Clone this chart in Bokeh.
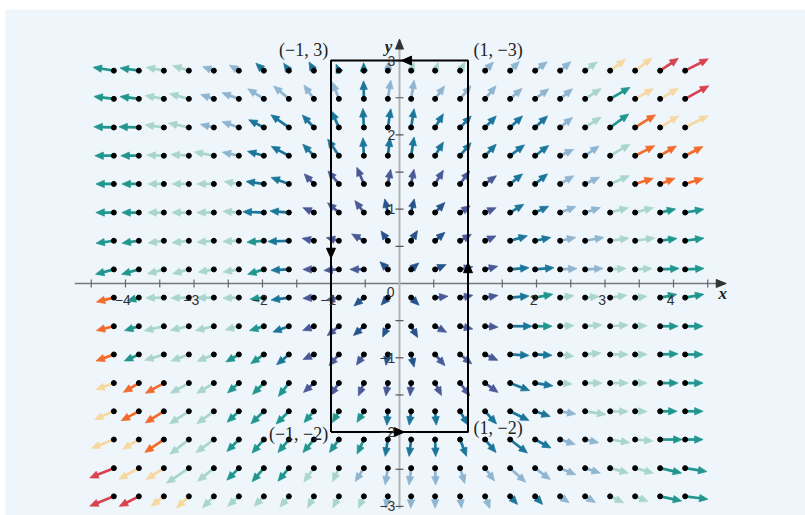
import math
from bokeh.plotting import figure
from bokeh.models import Range1d
from bokeh.core.properties import value
from bokeh.embed import file_html
from bokeh.resources import INLINE

# ---------------- data ----------------
x_cols = [-4.17, -3.805, -3.44, -3.075, -2.71, -2.345, -1.98, -1.615, -1.25, -0.885, -0.52, -0.17,
          0.17, 0.52, 0.885, 1.25, 1.615, 1.98, 2.345, 2.71, 3.075, 3.44, 3.805, 4.17]
y_rows = [2.865, 2.485, 2.1, 1.72, 1.34, 0.955, 0.575, 0.19,
          -0.19, -0.575, -0.955, -1.34, -1.72, -2.1, -2.485, -2.865]

# arrow direction (degrees) per row, top row first
angle_rows = [
    [171, 172, 169, 163, 160, 150, 137, 125, 119, 114, 92, 82, 70, 70, 60, 46, 45, 36, 40, 36, 36, 37, 34, 27],
    [173, 173, 170, 165, 162, 160, 148, 140, 126, 111, 91, 81, 81, 54, 50, 50, 41, 36, 39, 33, 30, 29, 30, 29],
    [178, 178, 172, 168, 167, 161, 153, 145, 133, 114, 93, 81, 81, 59, 46, 46, 43, 43, 39, 33, 36, 32, 32, 27],
    [180, 180, 178, 176, 169, 168, 165, 152, 134, 124, 93, 83, 81, 59, 50, 46, 37, 37, 25, 35, 30, 27, 31, 27],
    [180, 180, 180, 180, 180, 171, 172, 160, 134, 130, 113, 79, 79, 59, 54, 36, 39, 39, 31, 25, 23, 17, 21, 17],
    [180, 180, 180, 180, 180, 175, 178, 175, 156, 139, 127, 103, 77, 46, 34, 24, 31, 25, 21, 18, 15, 15, 13, 10],
    [188, 188, 188, 187, 185, 183, 185, 182, 168, 166, 151, 125, 58, 41, 30, 24, 16, 12, 12, 10, 8, 8, 8, 8],
    [195, 196, 195, 195, 190, 190, 197, 183, 180, 184, 180, 136, 40, 24, 12, 14, 5, 5, 3, 3, 3, 3, 3, 3],
    [194, 196, 181, 181, 181, 182, 187, 188, 184, 192, 220, 228, 316, 6, 10, 10, 5, 11, 9, 5, 8, 6, 11, 10],
    [194, 197, 193, 192, 193, 195, 197, 200, 201, 219, 222, 244, 300, 332, 348, 356, 0, 0, 3, 5, 4, 3, 0, 0],
    [200, 204, 197, 200, 202, 210, 215, 220, 205, 229, 235, 260, 283, 311, 321, 335, 357, 357, 352, 5, 0, 0, 2, 0],
    [200, 211, 209, 209, 211, 221, 225, 232, 222, 236, 247, 261, 265, 297, 307, 324, 339, 351, 355, 0, 0, 0, 0, 0],
    [203, 208, 212, 213, 216, 223, 224, 225, 229, 240, 238, 266, 262, 275, 300, 312, 334, 341, 350, 351, 359, 359, 0, 0],
    [201, 211, 214, 218, 216, 225, 229, 230, 230, 234, 245, 261, 263, 272, 291, 310, 322, 332, 342, 347, 351, 355, 0, 0],
    [202, 209, 213, 214, 219, 225, 229, 230, 234, 245, 237, 261, 263, 272, 287, 306, 318, 323, 337, 342, 345, 345, 347, 351],
    [202, 207, 218, 223, 225, 221, 225, 230, 241, 242, 245, 260, 268, 270, 277, 292, 313, 313, 325, 329, 335, 338, 348, 353],
]

# arrow length (pixels) per row
length_rows = [
    [21, 19, 18, 17, 12, 11, 11, 9, 10, 7, 8, 10, 9, 9, 10, 12, 13, 15, 14, 15, 19, 21, 22, 26],
    [20, 19, 19, 20, 14, 18, 19, 20, 17, 18, 18, 19, 19, 16, 17, 17, 16, 17, 16, 19, 23, 21, 21, 27],
    [20, 20, 19, 21, 14, 18, 17, 22, 17, 18, 19, 19, 19, 16, 16, 16, 17, 17, 16, 19, 23, 24, 22, 26],
    [19, 18, 17, 18, 20, 17, 17, 20, 16, 20, 18, 18, 19, 16, 17, 16, 18, 17, 15, 17, 23, 22, 19, 20],
    [18, 17, 16, 17, 17, 15, 18, 19, 14, 17, 18, 15, 15, 16, 16, 14, 16, 16, 16, 16, 21, 19, 16, 19],
    [18, 17, 16, 17, 17, 16, 21, 19, 12, 15, 15, 14, 14, 14, 12, 12, 16, 15, 17, 16, 19, 19, 16, 19],
    [18, 17, 16, 17, 17, 16, 17, 21, 12, 13, 14, 12, 12, 13, 13, 12, 18, 16, 16, 19, 19, 20, 17, 19],
    [19, 18, 17, 17, 16, 16, 17, 18, 11, 15, 14, 11, 10, 12, 13, 13, 19, 19, 17, 18, 16, 17, 19, 19],
    [18, 12, 18, 18, 17, 16, 14, 18, 11, 13, 13, 10, 11, 13, 13, 13, 19, 18, 14, 14, 17, 12, 17, 19],
    [18, 15, 20, 19, 19, 14, 15, 17, 12, 15, 14, 12, 13, 13, 13, 13, 22, 17, 14, 17, 18, 12, 18, 18],
    [19, 16, 20, 19, 18, 15, 16, 16, 12, 15, 13, 11, 13, 15, 15, 14, 19, 17, 14, 16, 18, 12, 18, 18],
    [19, 18, 21, 21, 20, 15, 16, 17, 14, 15, 14, 13, 13, 14, 16, 16, 21, 18, 12, 17, 18, 12, 18, 18],
    [21, 20, 22, 23, 21, 16, 18, 18, 15, 13, 13, 14, 14, 14, 16, 17, 21, 16, 16, 21, 18, 12, 17, 18],
    [24, 19, 23, 24, 22, 17, 18, 17, 17, 16, 16, 17, 17, 17, 18, 17, 22, 18, 16, 14, 20, 18, 22, 18],
    [26, 23, 21, 27, 21, 17, 18, 17, 17, 15, 16, 17, 17, 17, 16, 16, 21, 19, 17, 16, 19, 19, 22, 22],
    [26, 22, 16, 17, 16, 15, 14, 14, 13, 13, 13, 12, 12, 12, 12, 13, 11, 11, 11, 12, 15, 14, 22, 23],
]

# colour class of every arrow, one letter per column
color_rows = [
    "TTPPLLBB" "BBBLPPPL" "LLLPYYRR",
    "TTPPLLLL" "LLBLLLLL" "LLLPTYYR",
    "TTPPLLBB" "BBBBBBBB" "BBLPTOYY",
    "TTPPPLBB" "BBBBBBBB" "BBLLPOOO",
    "TTPPPPBB" "NNNNNNNN" "BBLLPOOO",
    "TTPPPPBB" "NNNDDDNN" "BBLLPPTT",
    "TTPPPPTB" "NNNDDDNN" "BBLLPPTT",
    "TTPPPPTB" "NNNDDDNN" "BBLLPPTT",
    "OTPPPPTB" "NNDDDNNN" "BTPPPPTT",
    "OTPPPPTB" "NNDDDNNN" "BTPPPPTT",
    "OTPPPTTB" "NNNDDNNN" "BBPPPPTT",
    "YOOPPTTT" "NNNNNNNN" "BBPPPPTT",
    "YOOPPTTT" "TTTBBBBB" "BBLPPPTT",
    "YYOPPTTT" "TTTBBBBB" "BBLLPPTT",
    "RYYPPTTT" "PPLLLLLL" "LLLLPPTT",
    "RRYYPPPP" "PPPLLLLL" "BBLLPPTT",
]
palette = {"D": "#27548a", "N": "#4b5a97", "B": "#1c769a", "L": "#8fb5d0",
           "P": "#a9d5cd", "T": "#21968f", "O": "#f26b2b", "Y": "#f6d8a0", "R": "#d8424f"}

rect_x = [-1, 1, 1, -1, -1]
rect_y = [-2, -2, 3, 3, -2]
corner_labels = ["(\u22121, 3)", "(1, \u22123)", "(\u22121, \u22122)", "(1, \u22122)"]
x_tick_vals = [-4, -3, -2, -1, 2, 3, 4]
y_tick_vals = [3, 2, 1, -1, -2, -3]

# ---------------- figure ----------------
W, H = 805, 515
LEFT, TOP = 5, 9              # white strip left of and above the light-blue panel
FW, FH = W - LEFT, H - TOP    # frame size
SX, SY = 68.5, 74.3           # pixels per data unit
X0, Y0 = 394, 274             # pixel position of origin inside the frame
BG = "#eef6fc"

p = figure(width=W, height=H, output_backend="svg", toolbar_location=None,
           x_range=Range1d(-X0 / SX, (FW - X0) / SX), y_range=Range1d(-(FH - Y0) / SY, Y0 / SY),
           min_border=0, min_border_left=LEFT, min_border_top=TOP,
           background_fill_color=BG, border_fill_color="white", outline_line_color=None)
p.axis.visible = False
p.grid.visible = False


def head(tx, ty, ux, uy, hl, hw):
    """triangle head (data coords) with tip at tx,ty, direction ux,uy in pixel space"""
    nx, ny = -uy, ux
    bx, by = tx - hl * ux / SX, ty - hl * uy / SY
    return ([tx, bx + hw * nx / SX, bx - hw * nx / SX],
            [ty, by + hw * ny / SY, by - hw * ny / SY])


# axes
p.segment(x0=[-4.74], y0=[0], x1=[4.70], y1=[0], line_color="#777777", line_width=1.6)
p.segment(x0=[0], y0=[-3.03], x1=[0], y1=[3.22], line_color="#b3b3b3", line_width=2)
tx_ = [v / 2 for v in range(-9, 10) if v != 0]
p.segment(x0=tx_, y0=[-4 / SY] * len(tx_), x1=tx_, y1=[4 / SY] * len(tx_), line_color="#666666", line_width=1.2)
ty_ = [v / 2 for v in range(-6, 7) if v != 0]
p.segment(x0=[-4 / SX] * len(ty_), y0=ty_, x1=[4 / SX] * len(ty_), y1=ty_, line_color="#555555", line_width=1.2)
axh = [head(4.77, 0, 1, 0, 10, 4), head(0, 3.29, 0, 1, 10, 4)]
p.patches(xs=[a[0] for a in axh], ys=[a[1] for a in axh], fill_color="#333333", line_color="#333333")

# vector field
sx0, sy0, sx1, sy1, scol, hxs, hys, hcol, dx, dy = [], [], [], [], [], [], [], [], [], []
for r, yv in enumerate(y_rows):
    for c, xv in enumerate(x_cols):
        th = math.radians(angle_rows[r][c])
        L = length_rows[r][c]
        ux, uy = math.cos(th), math.sin(th)
        col = palette[color_rows[r][c]]
        tipx, tipy = xv + L * ux / SX, yv + L * uy / SY
        hl = 8.5
        sx0.append(xv); sy0.append(yv)
        sx1.append(xv + (L - hl + 1) * ux / SX); sy1.append(yv + (L - hl + 1) * uy / SY)
        scol.append(col)
        hx, hy = head(tipx, tipy, ux, uy, hl, 3.7)
        hxs.append(hx); hys.append(hy); hcol.append(col)
        dx.append(xv); dy.append(yv)

p.segment(x0=sx0, y0=sy0, x1=sx1, y1=sy1, line_color=scol, line_width=2.7)
p.patches(xs=hxs, ys=hys, fill_color=hcol, line_color=hcol, line_width=0.7)
p.scatter(x=dx, y=dy, size=5, fill_color="black", line_color="black")

# rectangle and its orientation arrows
p.line(x=rect_x, y=rect_y, line_color="black", line_width=2)
eh = [head(-1, 0.34, 0, -1, 10, 4.5), head(0.03, 3, -1, 0, 10, 4.5),
      head(1, 0.28, 0, 1, 10, 4.5), head(0.07, -2, 1, 0, 10, 4.5)]
p.patches(xs=[a[0] for a in eh], ys=[a[1] for a in eh], fill_color="black", line_color="black")

# tick labels
p.text(x=[v - 0.04 for v in x_tick_vals], y=[-0.22] * len(x_tick_vals),
       text=[str(v).replace("-", "\u2212") for v in x_tick_vals],
       text_font=value("Liberation Sans"), text_font_size="14px", text_color="#333333",
       text_align="center", text_baseline="middle")
p.text(x=[-0.13], y=[-0.12], text=["0"], text_font=value("Liberation Sans"), text_font_size="14px",
       text_color="#333333", text_align="center", text_baseline="middle")
p.text(x=[-0.06] * len(y_tick_vals), y=y_tick_vals,
       text=[str(v).replace("-", "\u2212") for v in y_tick_vals],
       text_font=value("Liberation Sans"), text_font_size="14px", text_color="#333333",
       text_align="right", text_baseline="middle")

# axis names
p.text(x=[4.72], y=[-0.14], text=["x"], text_font=value("Liberation Serif"), text_font_size="17px",
       text_font_style="bold italic", text_color="#222222", text_align="center", text_baseline="middle")
p.text(x=[-0.16], y=[3.19], text=["y"], text_font=value("Liberation Serif"), text_font_size="17px",
       text_font_style="bold italic", text_color="#222222", text_align="center", text_baseline="middle")

# corner labels
p.text(x=[-1.04, 1.08, -1.04, 1.08], y=[3.14, 3.14, -2.02, -1.94], text=corner_labels,
       text_font=value("Liberation Serif"), text_font_size="18px", text_color="#222222",
       text_align=["right", "left", "right", "left"], text_baseline="middle")

open("out.html", "w").write(file_html(p, INLINE))
